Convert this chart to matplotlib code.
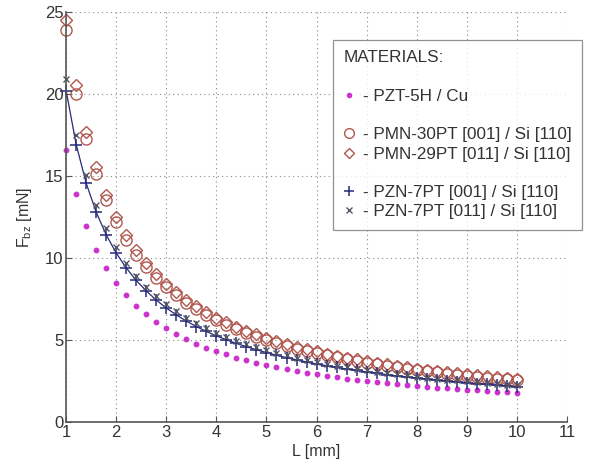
import matplotlib
matplotlib.use("Agg")
import matplotlib.pyplot as plt
from matplotlib.lines import Line2D

plt.rcParams["font.family"] = ["Liberation Sans", "DejaVu Sans"]

# L [mm], step 0.2 from 1 to 10
L = [1.0, 1.2, 1.4, 1.6, 1.8, 2.0, 2.2, 2.4, 2.6, 2.8,
     3.0, 3.2, 3.4, 3.6, 3.8, 4.0, 4.2, 4.4, 4.6, 4.8,
     5.0, 5.2, 5.4, 5.6, 5.8, 6.0, 6.2, 6.4, 6.6, 6.8,
     7.0, 7.2, 7.4, 7.6, 7.8, 8.0, 8.2, 8.4, 8.6, 8.8,
     9.0, 9.2, 9.4, 9.6, 9.8, 10.0]

# PZT-5H / Cu
pzt5h = [16.60, 13.91, 11.98, 10.52, 9.39, 8.47, 7.73, 7.10, 6.57, 6.11,
         5.72, 5.37, 5.06, 4.79, 4.55, 4.33, 4.13, 3.94, 3.78, 3.63,
         3.48, 3.35, 3.23, 3.12, 3.02, 2.92, 2.83, 2.74, 2.66, 2.59,
         2.51, 2.45, 2.38, 2.32, 2.26, 2.21, 2.16, 2.11, 2.06, 2.01,
         1.97, 1.93, 1.89, 1.85, 1.81, 1.78]

# PMN-30PT [001] / Si [110]
pmn30 = [23.90, 20.03, 17.24, 15.15, 13.52, 12.20, 11.12, 10.22, 9.46, 8.80,
         8.23, 7.73, 7.29, 6.90, 6.55, 6.23, 5.94, 5.68, 5.44, 5.22,
         5.02, 4.83, 4.66, 4.49, 4.34, 4.20, 4.07, 3.95, 3.83, 3.72,
         3.62, 3.52, 3.43, 3.34, 3.26, 3.18, 3.10, 3.03, 2.96, 2.90,
         2.84, 2.78, 2.72, 2.66, 2.61, 2.56]

# PMN-29PT [011] / Si [110]
pmn29 = [24.50, 20.53, 17.68, 15.53, 13.85, 12.51, 11.40, 10.48, 9.70, 9.02,
         8.44, 7.93, 7.47, 7.07, 6.71, 6.38, 6.09, 5.82, 5.58, 5.35,
         5.14, 4.95, 4.77, 4.61, 4.45, 4.31, 4.17, 4.05, 3.93, 3.82,
         3.71, 3.61, 3.52, 3.43, 3.34, 3.26, 3.18, 3.11, 3.04, 2.97,
         2.91, 2.85, 2.79, 2.73, 2.68, 2.63]

# PZN-7PT [001] / Si [110]
pzn001 = [20.20, 16.93, 14.57, 12.80, 11.42, 10.31, 9.40, 8.64, 8.00, 7.44,
          6.96, 6.54, 6.16, 5.83, 5.53, 5.26, 5.02, 4.80, 4.60, 4.41,
          4.24, 4.08, 3.93, 3.80, 3.67, 3.55, 3.44, 3.34, 3.24, 3.15,
          3.06, 2.98, 2.90, 2.82, 2.76, 2.69, 2.62, 2.56, 2.50, 2.45,
          2.40, 2.35, 2.30, 2.25, 2.21, 2.17]

# PZN-7PT [011] / Si [110]
pzn011 = [20.90, 17.51, 15.08, 13.25, 11.82, 10.67, 9.73, 8.94, 8.27, 7.70,
          7.20, 6.76, 6.38, 6.03, 5.72, 5.45, 5.20, 4.97, 4.76, 4.56,
          4.39, 4.22, 4.07, 3.93, 3.80, 3.68, 3.56, 3.45, 3.35, 3.26,
          3.16, 3.08, 3.00, 2.92, 2.85, 2.78, 2.71, 2.65, 2.59, 2.54,
          2.48, 2.43, 2.38, 2.33, 2.28, 2.24]

c_pzt = "#cc33cc"
c_pmn = "#b0584f"
c_pzn1 = "#262a7a"
c_pzn2 = "#555560"
txt = "#333333"

fig = plt.figure(figsize=(6.07, 4.68), dpi=100)
ax = fig.add_axes([0.109, 0.098, 0.825, 0.876])

ax.plot(L, pzn001, "-", color=c_pzn1, lw=0.9)
ax.plot(L, pzt5h, "o", color=c_pzt, ms=3.2, mec=c_pzt, clip_on=False)
ax.plot(L, pmn30, "o", mfc="none", mec=c_pmn, ms=8, mew=1.0, clip_on=False)
ax.plot(L, pmn29, "D", mfc="none", mec=c_pmn, ms=6.5, mew=1.0, clip_on=False)
ax.plot(L, pzn001, "+", color=c_pzn1, ms=8, mew=1.1, clip_on=False)
ax.plot(L, pzn011, "x", color=c_pzn2, ms=4.5, mew=1.0, clip_on=False)

ax.set_xlim(1, 11)
ax.set_ylim(0, 25)
ax.set_xticks(range(1, 12))
ax.set_yticks([0, 5, 10, 15, 20, 25])
ax.grid(True, linestyle=(0, (1, 3)), color="#888888", lw=0.8)
ax.tick_params(direction="in", length=4, labelsize=12, colors="#555555",
               labelcolor=txt, top=False, right=False, pad=2)
for s in ["top", "right"]:
    ax.spines[s].set_visible(False)
for s in ["left", "bottom"]:
    ax.spines[s].set_color("#555555")
    ax.spines[s].set_linewidth(1.2)

ax.set_xlabel("L [mm]", fontsize=11.5, color=txt, labelpad=3)
ax.set_ylabel("F$_{\\mathregular{bz}}$ [mN]", fontsize=11.5, color=txt, labelpad=8)

blank = Line2D([], [], linestyle="none", marker="none")
handles = [
    blank,
    Line2D([], [], linestyle="none", marker="o", color=c_pzt, ms=3),
    blank,
    Line2D([], [], linestyle="none", marker="o", mfc="none", mec=c_pmn, ms=7),
    Line2D([], [], linestyle="none", marker="D", mfc="none", mec=c_pmn, ms=5.5),
    blank,
    Line2D([], [], linestyle="none", marker="+", color=c_pzn1, ms=7, mew=1.1),
    Line2D([], [], linestyle="none", marker="x", color=c_pzn2, ms=4),
]
labels = [
    " ",
    "- PZT-5H / Cu",
    " ",
    "- PMN-30PT [001] / Si [110]",
    "- PMN-29PT [011] / Si [110]",
    " ",
    "- PZN-7PT [001] / Si [110]",
    "- PZN-7PT [011] / Si [110]",
]
leg = ax.legend(handles, labels, title="MATERIALS:", loc="upper right",
                bbox_to_anchor=(1.03, 0.932), fontsize=12.3, title_fontsize=12.3,
                frameon=True, fancybox=False, edgecolor="#777777",
                handlelength=0.7, handletextpad=0.45, labelspacing=0.25,
                borderpad=0.6, borderaxespad=0.0, alignment="left", labelcolor=txt)
leg.get_title().set_color(txt)
leg.get_frame().set_linewidth(0.9)

fig.savefig("out.png", dpi=100)
